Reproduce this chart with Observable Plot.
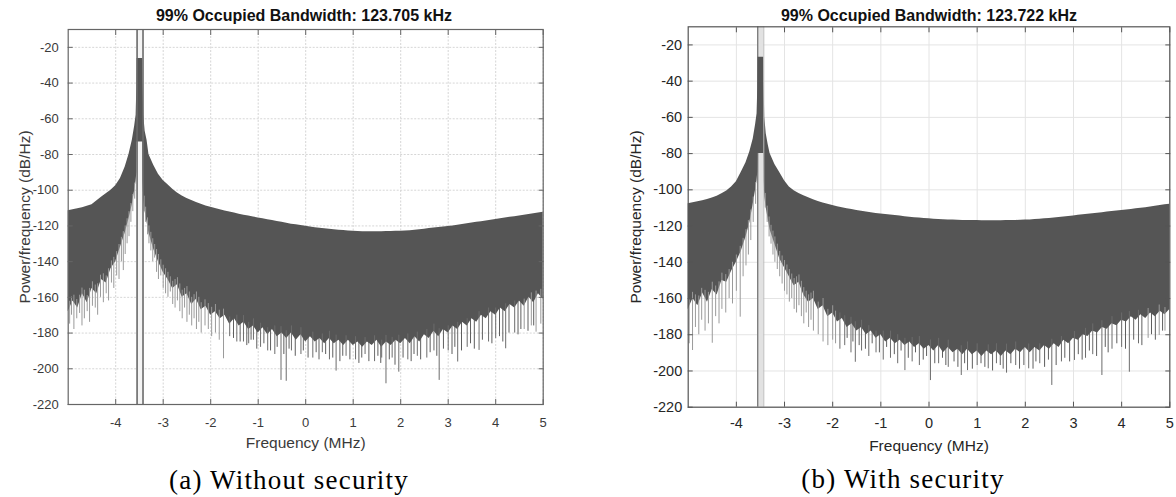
<!DOCTYPE html>
<html><head><meta charset="utf-8">
<script src="https://cdn.jsdelivr.net/npm/d3@7"></script>
<script src="https://cdn.jsdelivr.net/npm/@observablehq/plot@0.6"></script>
<style>
body{margin:0;background:#fff;}
#wrap{position:relative;width:1176px;height:497px;overflow:hidden;background:#fff;}
.panel{position:absolute;top:0;}
.title{position:absolute;font-family:"Liberation Sans",Arial,sans-serif;font-weight:bold;font-size:16px;color:#111;transform:translate(-50%,-50%);white-space:nowrap;}
.cap{position:absolute;font-family:"Liberation Serif","DejaVu Serif",serif;font-size:27px;letter-spacing:1.2px;color:#000;transform:translate(-50%,-50%);white-space:nowrap;}
</style></head><body>
<div id="wrap">
  <div class="panel" id="pa" style="left:0"></div>
  <div class="panel" id="pb" style="left:600px"></div>
  <div class="title" id="ta" style="left:304px;top:15.7px"></div>
  <div class="title" id="tb" style="left:929px;top:15.7px"></div>
  <div class="cap" id="ca" style="left:289px;top:480px"></div>
  <div class="cap" id="cb" style="left:903px;top:479px"></div>
</div>
<script>
// ---------- data ----------
const titles = ["99% Occupied Bandwidth: 123.705 kHz", "99% Occupied Bandwidth: 123.722 kHz"];
const captions = ["(a) Without security", "(b) With security"];
const xLabel = "Frequency (MHz)";
const yLabel = "Power/frequency (dB/Hz)";
const xTicks = [-4, -3, -2, -1, 0, 1, 2, 3, 4, 5];
const yTicks = [-220, -200, -180, -160, -140, -120, -100, -80, -60, -40, -20];

// occupied band edges (MHz)
const bandA = [-3.55, -3.425];
const bandB = [-3.555, -3.43];

// frequency grid (MHz)
const freq = [-5.0,-4.9,-4.8,-4.7,-4.6,-4.5,-4.4,-4.3,-4.2,-4.1,-4.0,-3.9,-3.8,
  -3.72,-3.65,-3.6,-3.57,-3.555,-3.55,-3.43,-3.425,-3.41,-3.38,-3.34,-3.3,-3.2,-3.1,
  -3.0,-2.9,-2.8,-2.7,-2.6,-2.5,-2.4,-2.3,-2.2,-2.1,-2.0,-1.9,-1.8,-1.7,-1.6,-1.5,-1.4,-1.3,-1.2,-1.1,-1.0,-0.9,-0.8,-0.7,-0.6,-0.5,-0.4,-0.3,-0.2,-0.1,
  0.0,0.1,0.2,0.3,0.4,0.5,0.6,0.7,0.8,0.9,1.0,1.1,1.2,1.3,1.4,1.5,1.6,1.7,1.8,1.9,2.0,2.1,2.2,2.3,2.4,2.5,2.6,2.7,2.8,2.9,3.0,3.1,3.2,3.3,3.4,3.5,3.6,3.7,3.8,3.9,4.0,4.1,4.2,4.3,4.4,4.5,4.6,4.7,4.8,4.9,5.0];

// (a) without security: upper envelope and lower edge of the dense PSD trace (dB/Hz)
const upperA = [-111.5,-111,-110.4,-109.8,-109,-108.2,-106,-104,-102,-100,-97.5,-93.5,-87,
  -80,-72,-64,-58,-42,-26.3,-26.3,-40,-58,-67,-72,-80,-86,-91,
  -94.5,-97,-99.5,-101.5,-103.2,-104.6,-105.8,-106.9,-107.9,-108.8,-109.6,-110.3,-111,-111.6,-112.2,-112.8,-113.4,-114,-114.5,-115,-115.5,-116,-116.5,-117,-117.5,-118,-118.5,-119,-119.4,-119.8,
  -120.2,-120.6,-121,-121.3,-121.6,-121.9,-122.2,-122.4,-122.6,-122.8,-123,
  -123.1,-123.2,-123.2,-123.2,-123.2,-123.2,-123.1,-123.1,-123,-123,
  -122.9,-122.7,-122.4,-122.1,-121.8,-121.5,-121.2,-120.9,-120.6,-120.3,
  -120,-119.6,-119.2,-118.8,-118.4,-118,-117.6,-117.2,-116.8,-116.4,
  -116,-115.6,-115.2,-114.8,-114.4,-114,-113.6,-113.2,-112.7,-112.3];
const lowerA = [-168,-162,-166,-158,-163,-155,-158,-150,-152,-144,-140,-132,-124,
  -116,-108,-100,-95,-90,-73,-73,-95,-105,-112,-118,-124,-133,-140,
  -146,-150,-155,-153,-160,-158,-164,-161,-167,-165,-170,-168,-172,-170,-175,-172,-176,-174,-178,-176,-180,-177,-181,-178,-182,-180,-183,-180,-184,-181,
  -185,-182,-185,-183,-186,-183,-186,-184,-187,-184,-187,
  -185,-188,-185,-187,-184,-188,-185,-187,-184,-186,
  -183,-186,-182,-185,-181,-183,-179,-182,-178,-180,
  -176,-178,-174,-176,-172,-174,-170,-172,-168,-170,
  -166,-168,-164,-166,-162,-165,-160,-163,-158,-161];
const lightSpikeFreqA = [-4.97,-4.93,-4.88,-4.82,-4.76,-4.71,-4.66,-4.6,-4.55,-4.49,-4.43,-4.38,-4.32,-4.26,-4.2,-4.15,-4.09,-4.04,-3.98,-3.93,-3.88,-3.84,-3.8,-3.76,-3.72,-3.68,-3.64,-3.6,
  -3.4,-3.37,-3.33,-3.3,-3.26,-3.22,-3.18,-3.14,-3.1,-3.05,-3.0,-2.95,-2.9,-2.85,-2.8,-2.75,-2.7,-2.65,-2.6,-2.55,-2.5,-2.45,-2.4,-2.35,-2.3,-2.25,-2.2,-2.12,-2.05,-1.98,-1.9,-1.82,-1.73,
  4.6,4.75,4.85,4.95];
const lightSpikeDbA = [-175,-170,-178,-172,-169,-176,-172,-168,-174,-165,-166,-170,-160,-163,-158,-162,-152,-155,-148,-150,-140,-145,-136,-130,-126,-118,-112,-105,
  -112,-118,-125,-130,-134,-140,-138,-146,-150,-148,-155,-158,-160,-157,-164,-166,-162,-168,-172,-166,-174,-170,-176,-172,-178,-174,-180,-176,-178,-182,-180,-184,-194.4,
  -178,-176,-179.5,-175];
const darkSpikeFreqA = [-1.6,-1.45,-1.31,-1.2,-1.1,-0.95,-0.8,-0.65,-0.52,-0.41,-0.3,-0.1,0.15,0.35,0.5,0.64,0.85,1.05,1.25,1.45,1.6,1.69,1.82,1.96,2.15,2.35,2.55,2.7,2.81,3.0,3.2,3.4,3.65,3.85,4.0,4.21,4.4];
const darkSpikeDbA = [-182,-185,-185,-186,-184,-188,-190,-192,-206.5,-207,-190,-192,-194,-191,-195,-201.3,-193,-195,-192,-196,-194,-208.4,-194,-201.9,-195,-193,-194,-190,-206.5,-190,-196.2,-188,-189.7,-185,-183,-188.8,-180];
const fringeFreqA = [-1.52,-1.38,-1.24,-1.15,-1.03,-0.88,-0.74,-0.6,-0.46,-0.35,-0.22,-0.05,0.05,0.22,0.28,0.42,0.57,0.72,0.78,0.93,1.12,1.18,1.33,1.52,1.58,1.76,1.88,2.05,2.22,2.28,2.42,2.62,2.76,2.9,3.08,3.14,3.28,3.47,3.55,3.72,3.92,4.08,4.15,4.28,4.47,4.53,4.68,4.8];
const fringeDbA = [-183,-185,-187,-184,-189,-186,-190,-188,-192,-189,-193,-190,-194,-191,-195,-192,-194,-196,-193,-195,-197,-194,-196,-193,-197,-195,-198,-194,-196,-192,-195,-191,-193,-189,-192,-188,-190,-186,-189,-184,-186,-182,-185,-180,-181,-178,-179,-176];

// (b) with security
const upperB = [-107.7,-107.2,-106.6,-106,-105.3,-104.5,-103.5,-102.2,-100.6,-98.5,-95.5,-90.5,-85,
  -79,-72,-64,-58,-44,-26.8,-26.8,-42,-60,-69,-75,-80,-86,-90.5,
  -95,-98.5,-100.5,-102,-103.3,-104.4,-105.5,-106.5,-107.3,-108,-108.7,-109.3,-109.9,-110.4,-110.9,-111.4,-111.8,-112.2,-112.6,-113,-113.3,-113.6,-113.9,-114.2,-114.5,-114.8,-115.1,-115.4,-115.6,-115.8,
  -116,-116.2,-116.4,-116.5,-116.6,-116.7,-116.8,-116.9,-117,-117,-117,
  -117.1,-117.1,-117.1,-117.1,-117.1,-117,-117,-116.9,-116.8,-116.7,
  -116.6,-116.4,-116.2,-116,-115.8,-115.6,-115.3,-115,-114.7,-114.4,
  -114.1,-113.8,-113.5,-113.2,-112.9,-112.6,-112.3,-112,-111.7,-111.4,
  -111.1,-110.8,-110.5,-110.2,-109.9,-109.5,-109.1,-108.7,-108.3,-107.9];
const lowerB = [-166,-160,-164,-157,-162,-155,-158,-150,-151,-145,-140,-134,-126,
  -118,-108,-100,-95,-90,-80,-80,-95,-104,-110,-116,-122,-130,-138,
  -143,-148,-153,-151,-158,-162,-160,-166,-164,-170,-168,-173,-171,-176,-174,-178,-176,-180,-178,-182,-180,-184,-182,-185,-183,-186,-184,-187,-185,-188,
  -186,-189,-186,-190,-187,-190,-188,-191,-188,-191,-189,
  -192,-189,-191,-189,-192,-189,-191,-188,-190,-187,
  -190,-187,-189,-186,-188,-185,-187,-183,-185,-182,
  -183,-180,-181,-178,-179,-176,-177,-174,-175,-172,
  -173,-170,-172,-169,-171,-168,-170,-167,-169,-166];
const lightSpikeFreqB = [-4.98,-4.91,-4.85,-4.78,-4.72,-4.65,-4.58,-4.5,-4.43,-4.36,-4.3,-4.22,-4.15,-4.08,-4.0,-3.92,-3.86,-3.8,-3.75,-3.7,-3.65,-3.6,
  -3.4,-3.36,-3.32,-3.28,-3.24,-3.2,-3.15,-3.1,-3.05,-3.0,-2.95,-2.9,-2.85,-2.8,-2.75,-2.7,-2.65,-2.6,-2.55,-2.5,-2.45,-2.4,-2.3,-2.2,-2.1,-2.0,-1.94,
  4.55,4.78,4.9];
const lightSpikeDbB = [-185,-188.7,-176,-180,-172,-178,-174,-184.7,-170,-174,-166,-168,-160,-163,-156,-170.3,-148,-142,-136,-128,-118,-108,
  -110,-118,-126,-130,-136,-140,-144,-148,-152,-156,-158,-162,-160,-166,-168,-164,-170,-174,-168,-176,-172,-178,-180,-184,-186,-183,-185,
  -182,-180.4,-178];
const darkSpikeFreqB = [-1.85,-1.75,-1.62,-1.53,-1.4,-1.25,-1.1,-0.95,-0.8,-0.65,-0.5,-0.35,-0.2,0.03,0.2,0.4,0.67,0.8,1.0,1.23,1.4,1.61,1.8,2.07,2.3,2.55,2.75,3.02,3.25,3.4,3.59,3.8,4.0,4.16,4.35];
const darkSpikeDbB = [-188,-186,-190,-195.2,-189,-192,-190,-194,-193,-196,-199.8,-195,-197,-205.3,-196,-198,-202.5,-199.8,-197,-198.8,-196,-201.2,-197,-198.8,-196,-208,-195,-194.2,-193,-191,-202.5,-188,-187,-200.7,-185];
const fringeFreqB = [-1.7,-1.58,-1.45,-1.32,-1.18,-1.03,-0.88,-0.72,-0.58,-0.43,-0.28,-0.12,-0.05,0.12,0.28,0.35,0.52,0.6,0.74,0.9,1.08,1.16,1.32,1.48,1.54,1.7,1.88,1.97,2.16,2.22,2.4,2.48,2.64,2.82,2.92,3.1,3.18,3.33,3.48,3.66,3.72,3.9,4.08,4.25,4.42,4.62,4.7,4.85];
const fringeDbB = [-182,-184,-186,-188,-185,-190,-187,-191,-189,-193,-190,-194,-192,-196,-193,-197,-195,-198,-196,-199,-196,-198,-200,-197,-199,-196,-199,-197,-199,-195,-198,-194,-197,-193,-195,-191,-194,-189,-192,-187,-190,-185,-188,-183,-186,-180,-183,-178];

// ---------- drawing ----------
function panel(o) {
  const rows = freq.map((f, i) => ({f, upper: o.upper[i], lower: o.lower[i]}));
  const lowerAt = d3.scaleLinear(freq, o.lower);
  const spikes = (fs, ds) => fs.map((f, i) => ({f, d: ds[i], s: lowerAt(f) + 4}));
  const fmt = d => String(d);
  const band = [{a: o.band[0], b: o.band[1]}];
  return Plot.plot({
    width: o.width, height: o.height,
    marginLeft: o.ml, marginRight: o.mr, marginTop: o.mt, marginBottom: o.mb,
    style: {fontFamily: "'Liberation Sans', Arial, sans-serif", fontSize: o.fs + "px", color: o.textColor, background: "transparent", overflow: "visible"},
    x: {domain: [-5, 5]},
    y: {domain: [-220, -10]},
    marks: [
      Plot.gridX(xTicks, {stroke: o.grid, strokeOpacity: 1, strokeDasharray: o.gridDash}),
      Plot.gridY(yTicks, {stroke: o.grid, strokeOpacity: 1, strokeDasharray: o.gridDash}),
      o.bandFill ? Plot.rect(band, {x1: "a", x2: "b", fill: o.bandFill}) : null,
      Plot.ruleX(spikes(o.ffq, o.fdb), {x: "f", y1: "d", y2: "s", stroke: o.fringe, strokeWidth: 1}),
      Plot.areaY(rows, {x: "f", y1: "lower", y2: "upper", fill: o.dark, curve: "linear"}),
      Plot.ruleX(spikes(o.lsf, o.lsd), {x: "f", y1: "d", y2: "s", stroke: o.light, strokeWidth: 1}),
      Plot.ruleX(spikes(o.dsf, o.dsd), {x: "f", y1: "d", y2: "s", stroke: o.darkSpike, strokeWidth: 1}),
      Plot.ruleX([o.band[0]], {stroke: o.bandEdgeL, strokeWidth: o.bandEdgeW}),
      Plot.ruleX([o.band[1]], {stroke: o.bandEdgeR, strokeWidth: o.bandEdgeW}),
      Plot.frame({stroke: o.frame, strokeWidth: 1.2}),
      // inward tick marks on all four sides
      Plot.axisX(xTicks, {anchor: "bottom", tickSize: 5, dy: -5, tickFormat: () => "", label: null, stroke: o.frame}),
      Plot.axisX(xTicks, {anchor: "top", tickSize: 5, dy: 5, tickFormat: () => "", label: null, stroke: o.frame}),
      Plot.axisY(yTicks, {anchor: "left", tickSize: 5, dx: 5, tickFormat: () => "", label: null, stroke: o.frame}),
      Plot.axisY(yTicks, {anchor: "right", tickSize: 5, dx: -5, tickFormat: () => "", label: null, stroke: o.frame}),
      // tick labels
      Plot.axisX(xTicks, {anchor: "bottom", tickSize: 0, tickPadding: o.xPad, tickFormat: fmt, label: null}),
      Plot.axisY(yTicks, {anchor: "left", tickSize: 0, tickPadding: o.yPad, tickFormat: fmt, label: null}),
      // axis titles
      Plot.text([xLabel], {frameAnchor: "bottom", lineAnchor: "middle", dy: o.xLabDy, text: d => d, fontSize: o.labFs, fill: o.textColor}),
      Plot.text([yLabel], {frameAnchor: "left", textAnchor: "middle", lineAnchor: "middle", dx: -o.yLabDx, rotate: -90, text: d => d, fontSize: o.labFs, fill: o.textColor})
    ]
  });
}

document.getElementById("pa").appendChild(panel({
  width: 600, height: 460, ml: 67.7, mr: 57.3, mt: 29, mb: 56,
  upper: upperA, lower: lowerA, band: bandA,
  lsf: lightSpikeFreqA, lsd: lightSpikeDbA, dsf: darkSpikeFreqA, dsd: darkSpikeDbA, ffq: fringeFreqA, fdb: fringeDbA,
  dark: "#555555", light: "#9a9a9a", darkSpike: "#6c6c6c", fringe: "#5e5e5e",
  bandFill: "#f4f4f4", bandEdgeL: "#6a6a6a", bandEdgeR: "#6a6a6a", bandEdgeW: 1.6,
  grid: "#d6d6d6", gridDash: "2,1.5", frame: "#666666", textColor: "#3a3a3a",
  fs: 13, labFs: 15.5, xPad: 13, yPad: 9.4, xLabDy: 38.5, yLabDx: 43
}));
document.getElementById("pb").appendChild(panel({
  width: 576, height: 460, ml: 87.7, mr: 6.7, mt: 26.3, mb: 53.3,
  upper: upperB, lower: lowerB, band: bandB,
  lsf: lightSpikeFreqB, lsd: lightSpikeDbB, dsf: darkSpikeFreqB, dsd: darkSpikeDbB, ffq: fringeFreqB, fdb: fringeDbB,
  dark: "#555555", light: "#9a9a9a", darkSpike: "#6c6c6c", fringe: "#5e5e5e",
  bandFill: "#e2e2e2", bandEdgeL: "#555555", bandEdgeR: "#bdbdbd", bandEdgeW: 1,
  grid: "#e4e4e4", gridDash: null, frame: "#555555", textColor: "#262626",
  fs: 14.5, labFs: 15.5, xPad: 10.5, yPad: 6, xLabDy: 39, yLabDx: 52
}));
document.getElementById("ta").textContent = titles[0];
document.getElementById("tb").textContent = titles[1];
document.getElementById("ca").textContent = captions[0];
document.getElementById("cb").textContent = captions[1];
</script>
</body></html>
